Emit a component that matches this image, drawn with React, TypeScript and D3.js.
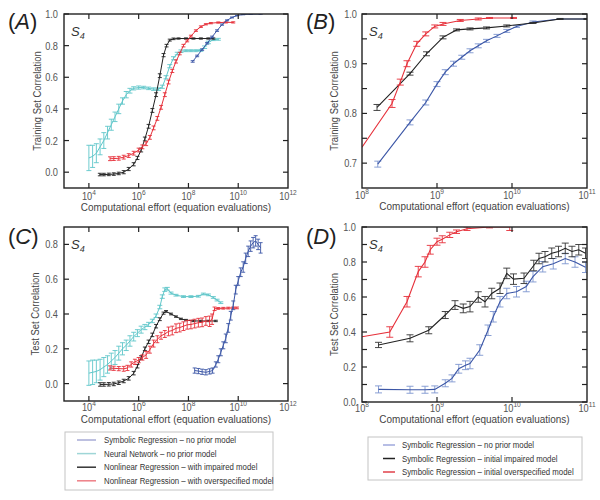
import * as d3 from "d3";
import type { ReactNode } from "react";

// [log10(effort), correlation, error]
type Pt = [number, number, number];

// ---- Panel A: training set, wide range ----
const A_SR: Pt[] = [
  [8.17, 0.70, 0.005], [8.35, 0.735, 0.005], [8.55, 0.775, 0.005], [8.75, 0.815, 0.005],
  [8.95, 0.855, 0.005], [9.15, 0.895, 0.005], [9.35, 0.933, 0.004], [9.55, 0.96, 0.003],
  [9.75, 0.978, 0.003], [9.95, 0.99, 0.002], [10.2, 0.997, 0.002], [10.5, 0.999, 0.001],
  [10.9, 1.0, 0.001],
];
const A_NN: Pt[] = [
  [4.0, 0.09, 0.08], [4.15, 0.10, 0.07], [4.3, 0.12, 0.06], [4.45, 0.16, 0.05],
  [4.6, 0.20, 0.05], [4.75, 0.25, 0.04], [4.9, 0.30, 0.035], [5.05, 0.35, 0.03],
  [5.2, 0.40, 0.03], [5.35, 0.45, 0.02], [5.5, 0.49, 0.02], [5.65, 0.515, 0.015],
  [5.8, 0.53, 0.01], [6.0, 0.535, 0.01], [6.2, 0.535, 0.008], [6.4, 0.53, 0.008],
  [6.6, 0.525, 0.008], [6.8, 0.525, 0.008], [6.95, 0.54, 0.01], [7.1, 0.60, 0.01],
  [7.25, 0.67, 0.01], [7.4, 0.72, 0.01], [7.55, 0.75, 0.008], [7.7, 0.765, 0.008],
  [7.9, 0.768, 0.006], [8.1, 0.768, 0.006], [8.3, 0.768, 0.006], [8.5, 0.77, 0.006],
  [8.65, 0.79, 0.008], [8.8, 0.82, 0.008], [9.0, 0.838, 0.006], [9.2, 0.84, 0.006],
];
const A_NLI: Pt[] = [
  [4.44, -0.015, 0.008], [4.6, -0.015, 0.008], [4.8, -0.014, 0.008], [5.0, -0.012, 0.008],
  [5.2, -0.008, 0.008], [5.4, 0.0, 0.01], [5.6, 0.02, 0.01], [5.8, 0.05, 0.01],
  [5.95, 0.09, 0.01], [6.1, 0.14, 0.012], [6.25, 0.21, 0.012], [6.4, 0.29, 0.012],
  [6.55, 0.39, 0.012], [6.7, 0.49, 0.012], [6.85, 0.61, 0.012], [7.0, 0.74, 0.01],
  [7.12, 0.80, 0.008], [7.25, 0.835, 0.006], [7.4, 0.843, 0.005], [7.6, 0.845, 0.004],
  [7.9, 0.845, 0.004], [8.2, 0.845, 0.004], [8.5, 0.845, 0.004], [8.8, 0.845, 0.004],
  [9.0, 0.845, 0.004],
];
const A_NLO: Pt[] = [
  [4.85, 0.085, 0.012], [5.0, 0.086, 0.012], [5.2, 0.088, 0.012], [5.4, 0.095, 0.012],
  [5.6, 0.105, 0.012], [5.8, 0.12, 0.012], [6.0, 0.14, 0.012], [6.15, 0.16, 0.012],
  [6.3, 0.18, 0.012], [6.45, 0.22, 0.012], [6.6, 0.28, 0.012], [6.75, 0.34, 0.012],
  [6.9, 0.41, 0.012], [7.05, 0.49, 0.012], [7.2, 0.57, 0.012], [7.35, 0.64, 0.01],
  [7.5, 0.70, 0.01], [7.65, 0.75, 0.008], [7.8, 0.80, 0.008], [7.95, 0.83, 0.006],
  [8.1, 0.86, 0.006], [8.3, 0.895, 0.005], [8.5, 0.92, 0.005], [8.7, 0.935, 0.004],
  [8.9, 0.942, 0.004], [9.2, 0.946, 0.004], [9.5, 0.947, 0.004], [9.8, 0.947, 0.004],
];

// ---- Panel B: training set, symbolic regression ----
const B_NONE: Pt[] = [
  [8.21, 0.698, 0.006], [8.64, 0.782, 0.005], [8.85, 0.822, 0.005], [9.0, 0.859, 0.005],
  [9.11, 0.883, 0.005], [9.22, 0.90, 0.005], [9.33, 0.913, 0.004], [9.44, 0.926, 0.004],
  [9.55, 0.936, 0.004], [9.66, 0.946, 0.003], [9.8, 0.956, 0.003], [9.93, 0.966, 0.003],
  [10.06, 0.975, 0.002], [10.28, 0.984, 0.002], [10.64, 0.99, 0.001], [11.0, 0.99, 0.001],
];
const B_IMP: Pt[] = [
  [8.2, 0.812, 0.006], [8.64, 0.88, 0.003], [8.86, 0.92, 0.004], [9.08, 0.953, 0.003],
  [9.26, 0.968, 0.002], [9.44, 0.97, 0.002], [9.66, 0.972, 0.002], [9.93, 0.976, 0.002],
  [10.28, 0.982, 0.001], [10.64, 0.99, 0.001], [11.0, 0.99, 0.001],
];
const B_OVER: Pt[] = [
  [8.0, 0.732, 0.0], [8.4, 0.82, 0.008], [8.51, 0.863, 0.006], [8.6, 0.90, 0.006],
  [8.73, 0.94, 0.005], [8.85, 0.96, 0.004], [8.97, 0.975, 0.003], [9.08, 0.98, 0.003],
  [9.31, 0.987, 0.002], [9.55, 0.99, 0.002], [9.7, 0.992, 0.001], [10.02, 0.992, 0.001],
];

// ---- Panel C: test set, wide range ----
const C_SR: Pt[] = [
  [8.25, 0.075, 0.015], [8.4, 0.072, 0.015], [8.55, 0.068, 0.015], [8.7, 0.065, 0.015],
  [8.85, 0.07, 0.015], [8.97, 0.075, 0.015], [9.1, 0.11, 0.015], [9.2, 0.14, 0.02],
  [9.3, 0.18, 0.02], [9.4, 0.22, 0.02], [9.5, 0.26, 0.025], [9.6, 0.32, 0.025],
  [9.7, 0.39, 0.025], [9.8, 0.45, 0.025], [9.9, 0.54, 0.025], [10.0, 0.59, 0.025],
  [10.1, 0.64, 0.025], [10.2, 0.67, 0.03], [10.3, 0.72, 0.03], [10.4, 0.76, 0.03],
  [10.5, 0.79, 0.03], [10.6, 0.81, 0.03], [10.7, 0.82, 0.03], [10.8, 0.80, 0.03],
  [10.9, 0.78, 0.03],
];
const C_NN: Pt[] = [
  [4.0, 0.06, 0.07], [4.15, 0.065, 0.07], [4.3, 0.07, 0.065], [4.45, 0.08, 0.06],
  [4.6, 0.095, 0.055], [4.75, 0.11, 0.05], [4.9, 0.13, 0.045], [5.05, 0.15, 0.04],
  [5.2, 0.175, 0.04], [5.35, 0.20, 0.035], [5.5, 0.22, 0.03], [5.65, 0.245, 0.03],
  [5.8, 0.27, 0.025], [5.95, 0.29, 0.02], [6.1, 0.31, 0.02], [6.25, 0.325, 0.015],
  [6.4, 0.34, 0.012], [6.55, 0.36, 0.01], [6.7, 0.39, 0.01], [6.85, 0.44, 0.01],
  [6.95, 0.50, 0.01], [7.05, 0.54, 0.01], [7.15, 0.545, 0.008], [7.3, 0.52, 0.006],
  [7.5, 0.508, 0.005], [7.8, 0.50, 0.005], [8.1, 0.50, 0.005], [8.4, 0.502, 0.005],
  [8.6, 0.515, 0.005], [8.8, 0.51, 0.005], [9.0, 0.495, 0.005], [9.15, 0.48, 0.005],
  [9.3, 0.465, 0.005],
];
const C_NLI: Pt[] = [
  [4.45, -0.005, 0.01], [4.6, -0.005, 0.01], [4.8, -0.004, 0.01], [5.0, -0.002, 0.01],
  [5.2, 0.005, 0.01], [5.4, 0.015, 0.01], [5.6, 0.03, 0.01], [5.8, 0.06, 0.01],
  [5.95, 0.10, 0.01], [6.1, 0.15, 0.01], [6.25, 0.20, 0.01], [6.4, 0.24, 0.01],
  [6.55, 0.28, 0.01], [6.7, 0.33, 0.01], [6.85, 0.37, 0.008], [7.0, 0.405, 0.006],
  [7.1, 0.415, 0.005], [7.3, 0.40, 0.005], [7.5, 0.385, 0.004], [7.7, 0.372, 0.004],
  [7.9, 0.365, 0.004], [8.2, 0.36, 0.004], [8.5, 0.36, 0.004], [8.8, 0.36, 0.004],
  [9.1, 0.36, 0.004],
];
const C_NLO: Pt[] = [
  [4.85, 0.09, 0.012], [5.0, 0.088, 0.012], [5.2, 0.086, 0.012], [5.4, 0.085, 0.014],
  [5.55, 0.09, 0.015], [5.7, 0.11, 0.015], [5.85, 0.125, 0.015], [6.0, 0.135, 0.015],
  [6.15, 0.15, 0.015], [6.3, 0.165, 0.02], [6.45, 0.195, 0.02], [6.6, 0.23, 0.02],
  [6.75, 0.255, 0.02], [6.9, 0.275, 0.02], [7.05, 0.285, 0.02], [7.2, 0.30, 0.025],
  [7.35, 0.305, 0.025], [7.5, 0.318, 0.025], [7.65, 0.322, 0.025], [7.8, 0.33, 0.025],
  [7.95, 0.338, 0.025], [8.1, 0.34, 0.025], [8.25, 0.345, 0.025], [8.4, 0.35, 0.025],
  [8.55, 0.352, 0.025], [8.7, 0.36, 0.025], [8.85, 0.358, 0.03], [8.95, 0.37, 0.03],
  [9.05, 0.43, 0.01], [9.2, 0.432, 0.005], [9.4, 0.433, 0.005], [9.6, 0.434, 0.005],
  [9.8, 0.435, 0.005], [9.95, 0.435, 0.005],
];

// ---- Panel D: test set, symbolic regression ----
const D_NONE: Pt[] = [
  [8.22, 0.072, 0.02], [8.64, 0.07, 0.02], [8.84, 0.07, 0.02], [8.97, 0.072, 0.02],
  [9.11, 0.107, 0.02], [9.2, 0.135, 0.02], [9.29, 0.19, 0.025], [9.38, 0.21, 0.025],
  [9.44, 0.22, 0.03], [9.57, 0.297, 0.03], [9.68, 0.41, 0.03], [9.75, 0.487, 0.03],
  [9.84, 0.573, 0.03], [9.93, 0.62, 0.03], [10.06, 0.63, 0.03], [10.19, 0.66, 0.03],
  [10.28, 0.716, 0.03], [10.41, 0.773, 0.03], [10.55, 0.79, 0.03], [10.71, 0.82, 0.03],
  [10.84, 0.80, 0.03], [10.98, 0.77, 0.03],
];
const D_IMP: Pt[] = [
  [8.22, 0.326, 0.015], [8.64, 0.364, 0.02], [8.89, 0.41, 0.02], [9.11, 0.497, 0.02],
  [9.24, 0.554, 0.025], [9.35, 0.535, 0.025], [9.44, 0.545, 0.03], [9.55, 0.60, 0.03],
  [9.64, 0.573, 0.03], [9.73, 0.62, 0.03], [9.84, 0.65, 0.03], [9.93, 0.735, 0.03],
  [10.02, 0.702, 0.03], [10.16, 0.707, 0.03], [10.29, 0.78, 0.03], [10.36, 0.82, 0.03],
  [10.44, 0.83, 0.03], [10.53, 0.85, 0.03], [10.62, 0.86, 0.03], [10.71, 0.878, 0.03],
  [10.8, 0.86, 0.03], [10.89, 0.87, 0.03], [10.98, 0.85, 0.03],
];
const D_OVER: Pt[] = [
  [8.0, 0.373, 0.0], [8.37, 0.40, 0.03], [8.6, 0.573, 0.03], [8.75, 0.745, 0.03],
  [8.84, 0.80, 0.03], [8.91, 0.87, 0.025], [9.0, 0.916, 0.02], [9.07, 0.93, 0.02],
  [9.17, 0.955, 0.015], [9.26, 0.973, 0.01], [9.4, 0.99, 0.01], [9.7, 1.0, 0.005],
  [9.97, 1.0, 0.02],
];

const LEGEND_LEFT = [
  "Symbolic Regression \u2013 no prior model",
  "Neural Network \u2013 no prior model",
  "Nonlinear Regression \u2013 with impaired model",
  "Nonlinear Regression \u2013 with overspecified model",
];
const LEGEND_RIGHT = [
  "Symbolic Regression \u2013 no prior model",
  "Symbolic Regression \u2013 initial impaired model",
  "Symbolic Regression \u2013 initial overspecified model",
];

const FONT = "'Liberation Sans', Arial, sans-serif";
const BLUE = "#3b56a6";
const BLUE_ERR = "#7d95cf";
const CYAN = "#5fc6c9";
const BLACK = "#222222";
const RED = "#e6303a";

// the original lettering is horizontally squeezed, so squash glyphs along the baseline
function T({ x, y, size, sx = 0.86, anchor = "start", fill = "#444", rotate = 0, italic = false, children }: {
  x: number; y: number; size: number; sx?: number; anchor?: string; fill?: string;
  rotate?: number; italic?: boolean; children: ReactNode;
}) {
  return (
    <text transform={`translate(${x},${y}) rotate(${rotate}) scale(${sx},1)`} textAnchor={anchor}
      fontSize={size} fill={fill} fontFamily={FONT} fontStyle={italic ? "italic" : "normal"}>
      {children}
    </text>
  );
}

interface Series { data: Pt[]; color: string; err: string; width: number; cap: number }

interface PanelProps {
  id: string;
  label: string;
  box: [number, number, number, number]; // left, right, top, bottom
  xExp: [number, number];
  xTickExp: number[];
  xLabelExp: number[];
  yDomain: [number, number];
  yTicks: number[];
  yMinor: number[];
  yTitle: string;
  yTitleX: number;
  yLabelX: number;
  tickLabelY: number;
  titleY: number;
  labelY: number;
  series: Series[];
}

function Panel(p: PanelProps) {
  const [l, r, t, b] = p.box;
  const x = d3.scaleLog().domain([10 ** p.xExp[0], 10 ** p.xExp[1]]).range([l, r]);
  const y = d3.scaleLinear().domain(p.yDomain).range([b, t]);
  const line = d3.line<Pt>().x((d) => x(10 ** d[0])).y((d) => y(d[1]));
  const tk = 5;
  return (
    <g>
      <defs>
        <clipPath id={`clip-${p.id}`}>
          <rect x={l} y={t} width={r - l} height={b - t} />
        </clipPath>
      </defs>
      <g clipPath={`url(#clip-${p.id})`}>
        {p.series.map((s, i) => (
          <g key={i}>
            {s.data.filter((d) => d[2] > 0).map((d, j) => {
              const cx = x(10 ** d[0]);
              const y0 = y(d[1] - d[2]);
              const y1 = y(d[1] + d[2]);
              return (
                <path key={j}
                  d={`M${cx},${y0}V${y1}M${cx - s.cap},${y0}H${cx + s.cap}M${cx - s.cap},${y1}H${cx + s.cap}`}
                  stroke={s.err} strokeWidth={0.9} fill="none" />
              );
            })}
            <path d={line(s.data) ?? ""} fill="none" stroke={s.color} strokeWidth={s.width} />
          </g>
        ))}
      </g>
      <rect x={l} y={t} width={r - l} height={b - t} fill="none" stroke="#222" strokeWidth={1.4} />
      {p.xTickExp.map((e) => (
        <g key={e} stroke="#222" strokeWidth={1.2}>
          <line x1={x(10 ** e)} x2={x(10 ** e)} y1={b} y2={b - tk} />
          <line x1={x(10 ** e)} x2={x(10 ** e)} y1={t} y2={t + tk} />
        </g>
      ))}
      {p.yTicks.concat(p.yMinor).map((v) => (
        <g key={v} stroke="#222" strokeWidth={1.2}>
          <line x1={l} x2={l + tk} y1={y(v)} y2={y(v)} />
          <line x1={r} x2={r - tk} y1={y(v)} y2={y(v)} />
        </g>
      ))}
      {p.xLabelExp.map((e) => (
        <T key={e} x={x(10 ** e)} y={p.tickLabelY} size={10.5} sx={0.88} anchor="middle" fill="#555">
          <tspan>10</tspan>
          <tspan dy={-5} fontSize={7.5}>{e}</tspan>
        </T>
      ))}
      {p.yTicks.map((v) => (
        <T key={v} x={p.yLabelX} y={y(v) + 4} size={10.5} sx={0.88} anchor="end" fill="#555">
          {d3.format(".1f")(v)}
        </T>
      ))}
      <T x={(l + r) / 2} y={p.titleY} size={11.2} sx={0.89} anchor="middle">
        Computational effort (equation evaluations)
      </T>
      <T x={p.yTitleX} y={(t + b) / 2} size={11} sx={0.86} anchor="middle" rotate={-90}>
        {p.yTitle}
      </T>
      <T x={l + 7} y={t + 22} size={13} sx={1} fill="#333" italic>
        S<tspan dy={3} fontSize={9}>4</tspan>
      </T>
      <text x={l - 56} y={p.labelY} fontSize={22} fill="#222" fontFamily={FONT}>
        (<tspan fontStyle="italic">{p.label}</tspan>)
      </text>
    </g>
  );
}

const wide = (sr: Pt[], nn: Pt[], nli: Pt[], nlo: Pt[]): Series[] => [
  { data: nn, color: CYAN, err: CYAN, width: 1, cap: 2.5 },
  { data: nli, color: BLACK, err: BLACK, width: 1, cap: 2 },
  { data: nlo, color: RED, err: RED, width: 1, cap: 2 },
  { data: sr, color: BLUE, err: BLUE, width: 1, cap: 2 },
];
const narrow = (none: Pt[], imp: Pt[], over: Pt[]): Series[] => [
  { data: none, color: BLUE, err: BLUE_ERR, width: 1.1, cap: 3.5 },
  { data: imp, color: BLACK, err: "#333", width: 1.1, cap: 3.5 },
  { data: over, color: RED, err: RED, width: 1.1, cap: 3.5 },
];

export default function App() {
  const legLeftColors = ["#a7abd6", "#9fd6d7", "#333333", "#ee7f86"];
  const legRightColors = ["#9fa8dc", "#222222", "#e0404a"];
  return (
    <svg width={600} height={500} style={{ position: "absolute", left: 0, top: 0, background: "#fff" }}>
      <Panel id="a" label="A" box={[64, 288, 14, 188]} xExp={[3, 12]} xTickExp={[4, 6, 8, 10]}
        xLabelExp={[4, 6, 8, 10, 12]} yDomain={[-0.1, 1.0]} yTicks={[0, 0.2, 0.4, 0.6, 0.8, 1.0]} yMinor={[]}
        yTitle="Training Set Correlation" yTitleX={41} yLabelX={58} tickLabelY={200} titleY={211} labelY={29}
        series={wide(A_SR, A_NN, A_NLI, A_NLO)} />
      <Panel id="b" label="B" box={[362, 587, 14, 188]} xExp={[8, 11]} xTickExp={[9, 10]}
        xLabelExp={[8, 9, 10, 11]} yDomain={[0.65, 1.0]} yTicks={[0.7, 0.8, 0.9, 1.0]} yMinor={[0.75, 0.85, 0.95]}
        yTitle="Training Set Correlation" yTitleX={338} yLabelX={357} tickLabelY={199} titleY={210} labelY={29}
        series={narrow(B_NONE, B_IMP, B_OVER)} />
      <Panel id="c" label="C" box={[64, 288, 227, 401]} xExp={[3, 12]} xTickExp={[4, 6, 8, 10]}
        xLabelExp={[4, 6, 8, 10, 12]} yDomain={[-0.1, 0.9]} yTicks={[0, 0.2, 0.4, 0.6, 0.8]} yMinor={[]}
        yTitle="Test Set Correlation" yTitleX={39} yLabelX={58} tickLabelY={411} titleY={423} labelY={244}
        series={wide(C_SR, C_NN, C_NLI, C_NLO)} />
      <Panel id="d" label="D" box={[362, 587, 227, 402]} xExp={[8, 11]} xTickExp={[9, 10]}
        xLabelExp={[8, 9, 10, 11]} yDomain={[0, 1.0]} yTicks={[0, 0.2, 0.4, 0.6, 0.8, 1.0]}
        yMinor={[0.1, 0.3, 0.5, 0.7, 0.9]}
        yTitle="Test Set Correlation" yTitleX={338} yLabelX={356} tickLabelY={412} titleY={423} labelY={244}
        series={narrow(D_NONE, D_IMP, D_OVER)} />

      <rect x={65} y={432} width={208} height={58} fill="#fff" stroke="#c4c4c4" />
      {LEGEND_LEFT.map((s, i) => (
        <g key={s}>
          <line x1={77} x2={96} y1={440 + i * 13.6} y2={440 + i * 13.6} stroke={legLeftColors[i]} strokeWidth={1.5} />
          <T x={104} y={443 + i * 13.6} size={9} sx={0.87} fill="#333">{s}</T>
        </g>
      ))}
      <rect x={368} y={437} width={214} height={43} fill="#fff" stroke="#c4c4c4" />
      {LEGEND_RIGHT.map((s, i) => (
        <g key={s}>
          <line x1={383} x2={395} y1={445 + i * 13.5} y2={445 + i * 13.5} stroke={legRightColors[i]} strokeWidth={1.5} />
          <T x={402} y={448 + i * 13.5} size={9} sx={0.87} fill="#333">{s}</T>
        </g>
      ))}
    </svg>
  );
}
